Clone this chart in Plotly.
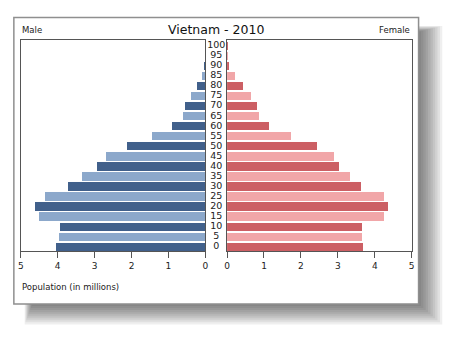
import plotly.graph_objects as go

# Age groups (lower bound of each 5-year band)
ages = [0, 5, 10, 15, 20, 25, 30, 35, 40, 45, 50, 55, 60, 65, 70, 75, 80, 85, 90, 95, 100]
age_labels = [str(a) for a in ages]

# Population by age group, millions
male = [4.05, 3.97, 3.94, 4.52, 4.61, 4.36, 3.74, 3.35, 2.94, 2.71, 2.12, 1.45,
        0.91, 0.62, 0.55, 0.40, 0.22, 0.09, 0.03, 0.005, 0.001]
female = [3.68, 3.65, 3.67, 4.26, 4.37, 4.24, 3.63, 3.33, 3.04, 2.91, 2.45, 1.72,
          1.15, 0.88, 0.81, 0.66, 0.44, 0.23, 0.06, 0.01, 0.002]

x_ticks = [0, 1, 2, 3, 4, 5]

MALE_DARK, MALE_LIGHT = "#41608b", "#8ca8cb"
FEM_DARK, FEM_LIGHT = "#cc5f64", "#f1a6a8"

male_colors = [MALE_DARK if i % 2 == 0 else MALE_LIGHT for i in range(len(ages))]
female_colors = [FEM_DARK if i % 2 == 0 else FEM_LIGHT for i in range(len(ages))]

W, H = 465, 344


def px(x):
    return x / W


def py(y):
    return 1 - y / H


fig = go.Figure()

fig.add_trace(go.Bar(x=male, y=ages, orientation="h", marker=dict(color=male_colors, line_width=0),
                     width=4.15, xaxis="x", yaxis="y", showlegend=False, hoverinfo="x+y"))
fig.add_trace(go.Bar(x=female, y=ages, orientation="h", marker=dict(color=female_colors, line_width=0),
                     width=4.15, xaxis="x2", yaxis="y2", showlegend=False, hoverinfo="x+y"))
# Age labels centred in the gap between the two panels
fig.add_trace(go.Scatter(x=[0] * len(ages), y=ages, text=age_labels, mode="text",
                         textfont=dict(family="DejaVu Sans", size=9.5, color="#222"),
                         xaxis="x3", yaxis="y3", showlegend=False, hoverinfo="skip"))

y_dom = [py(251), py(40)]
y_rng = [-2.1, 102.9]
axis_line = dict(showline=True, linecolor="#555", linewidth=1, mirror=True)

fig.update_layout(
    width=W, height=H,
    margin=dict(l=0, r=0, t=0, b=0),
    paper_bgcolor="white", plot_bgcolor="white",
    font=dict(family="DejaVu Sans", size=9, color="#222"),
    bargap=0,
    xaxis=dict(domain=[px(18), px(205)], range=[5, 0], tickvals=x_ticks, ticks="outside",
               ticklen=6, tickcolor="#555", showgrid=False, zeroline=False,
               tickfont=dict(size=9), **axis_line),
    yaxis=dict(domain=y_dom, range=y_rng, showticklabels=False, showgrid=False,
               zeroline=False, ticks="", **axis_line),
    xaxis2=dict(domain=[px(227), px(414)], range=[0, 5], tickvals=x_ticks, ticks="outside",
                ticklen=6, tickcolor="#555", showgrid=False, zeroline=False,
                tickfont=dict(size=9), anchor="y2", **axis_line),
    yaxis2=dict(domain=y_dom, range=y_rng, showticklabels=False, showgrid=False,
                zeroline=False, ticks="", anchor="x2", **axis_line),
    xaxis3=dict(domain=[px(205), px(227)], range=[-1, 1], visible=False, anchor="y3"),
    yaxis3=dict(domain=y_dom, range=y_rng, visible=False, anchor="x3"),
)

# Soft drop shadow behind the framed card (stacked translucent layers)
shadow = []
n = 10
for i in range(n):
    d = 24 - i * 2.4
    shadow.append(dict(type="rect", xref="paper", yref="paper", layer="below",
                       x0=px(22 + i * 0.8), x1=px(421 + d), y0=py(304 + d * 0.85),
                       y1=py(26 + i * 0.6),
                       fillcolor="rgba(30,30,30,0.07)", line_width=0))
frame = dict(type="rect", xref="paper", yref="paper", layer="below",
             x0=px(11), x1=px(421), y0=py(304), y1=py(17.5),
             fillcolor="white", line=dict(color="#8f8f8f", width=1.5))
fig.update_layout(shapes=shadow + [frame])

fig.add_annotation(text="Vietnam - 2010", x=px(216), y=py(29), xref="paper", yref="paper",
                   showarrow=False, font=dict(size=12.5, color="#111"), xanchor="center", yanchor="middle")
fig.add_annotation(text="Male", x=px(17), y=py(29.5), xref="paper", yref="paper",
                   showarrow=False, font=dict(size=8.5), xanchor="left", yanchor="middle")
fig.add_annotation(text="Female", x=px(414), y=py(29.5), xref="paper", yref="paper",
                   showarrow=False, font=dict(size=8.5), xanchor="right", yanchor="middle")
fig.add_annotation(text="Population (in millions)", x=px(17), y=py(287), xref="paper", yref="paper",
                   showarrow=False, font=dict(size=8.5), xanchor="left", yanchor="middle")

fig.write_html("out.html")
